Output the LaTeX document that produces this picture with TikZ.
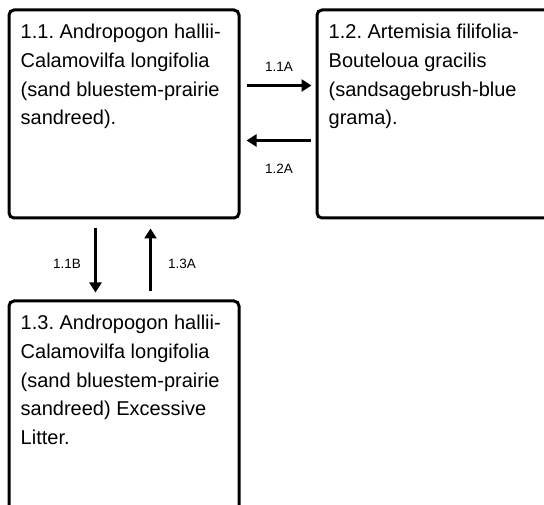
\documentclass[tikz,border=0pt]{standalone}
\usepackage{fontspec}
\setmainfont{Liberation Sans}
\usetikzlibrary{arrows.meta,calc}
\frenchspacing
\begin{document}
\begin{tikzpicture}[x=1pt,y=-1pt,
  box/.style={draw=black,line width=3pt,rounded corners=5pt,fill=white,inner sep=0pt},
  boxtext/.style={anchor=north west,align=left,inner sep=0pt,font=\fontsize{20}{28.7}\selectfont},
  lbl/.style={font=\fontsize{13.5}{15}\selectfont,inner sep=0pt},
  arr/.style={line width=3pt,-{Triangle[length=10pt,width=12pt]}}]
\useasboundingbox (0,0) rectangle (544,505);
\clip (0,0) rectangle (544,505);

% state boxes (box 2 runs off the right edge, box 3 off the bottom)
\node[box,minimum width=230pt,minimum height=208pt] (b1) at (124,114) {};
\node[box,minimum width=253pt,minimum height=208pt] (b2) at (443.5,114) {};
\node[box,minimum width=230pt,minimum height=229pt] (b3) at (124,415.5) {};

\node[boxtext] (t1) at ($(b1.north west)+(13,15.5)$) {1.1. Andropogon hallii-\\Calamovilfa longifolia\\(sand bluestem-prairie\\sandreed).};
\node[boxtext] (t2) at ($(b2.north west)+(13,15.5)$) {1.2. Artemisia filifolia-\\Bouteloua gracilis\\(sandsagebrush-blue\\grama).};
\node[boxtext] (t3) at ($(b3.north west)+(13,15.5)$) {1.3. Andropogon hallii-\\Calamovilfa longifolia\\(sand bluestem-prairie\\sandreed) Excessive\\Litter.};

% transitions
\draw[arr] ($(b1.north east)+(6,77)$) coordinate (a1s) -- ($(b2.north west)+(-4,77)$) coordinate (a1e);
\draw[arr] ($(b2.north west)+(-5,132)$) coordinate (a2s) -- ($(b1.north east)+(6,132)$) coordinate (a2e);
\draw[arr] ($(b1.south west)+(88,9)$) coordinate (a3s) -- ($(b3.north west)+(88,-7)$) coordinate (a3e);
\draw[arr] ($(b3.north west)+(143,-8)$) coordinate (a4s) -- ($(b1.south west)+(143,9)$) coordinate (a4e);

\node[lbl] (l1) at (279,67) {1.1A};
\node[lbl] (l2) at (279,169) {1.2A};
\node[lbl] (l3) at (67,264) {1.1B};
\node[lbl] (l4) at (182,264) {1.3A};
\end{tikzpicture}
\end{document}
